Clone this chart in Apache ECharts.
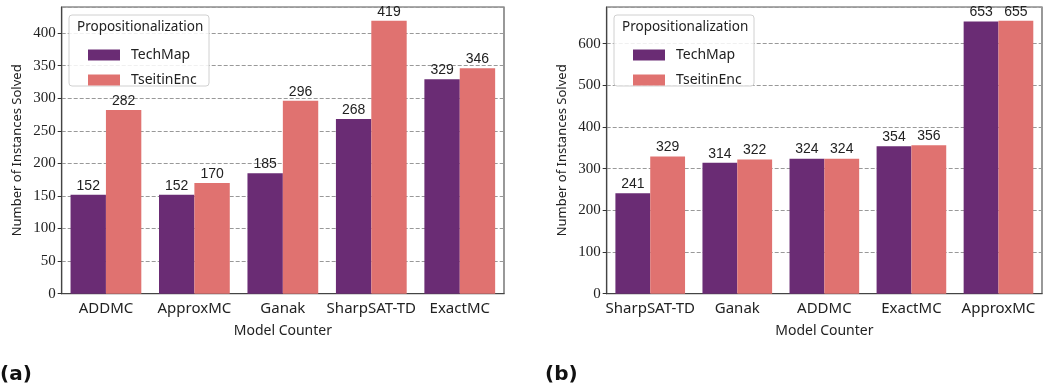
<!DOCTYPE html>
<html><head><meta charset="utf-8">
<script src="https://cdn.jsdelivr.net/npm/echarts@6/dist/echarts.min.js"></script>
<style>html,body{margin:0;padding:0;background:#fff}#c{width:1046px;height:392px}</style>
</head><body><div id="c"></div>
<script>
const catsA = ['ADDMC','ApproxMC','Ganak','SharpSAT-TD','ExactMC'];
const techA = [152,152,185,268,329];
const tseiA = [282,170,296,419,346];
const catsB = ['SharpSAT-TD','Ganak','ADDMC','ExactMC','ApproxMC'];
const techB = [241,314,324,354,653];
const tseiB = [329,322,324,356,655];
const seriesNames = ['TechMap','TseitinEnc'];
const legendTitle = 'Propositionalization';
const yTitle = 'Number of Instances Solved';
const xTitle = 'Model Counter';

const C1 = '#6a2c74', C2 = '#e07270';
const serif = 'Liberation Serif';
const sans = 'Noto Sans';
const narrow = 'Liberation Sans';

const chart = echarts.init(document.getElementById('c'), null, {renderer:'canvas'});
function xAx(i, cats){
  return {type:'category', gridIndex:i, data:cats,
    axisLine:{lineStyle:{color:'#444',width:1.2}},
    axisTick:{alignWithLabel:true,length:4,lineStyle:{color:'#333'}},
    axisLabel:{interval:0,fontFamily:sans,fontSize:15,color:'#222',margin:8},
    name:xTitle, nameLocation:'middle', nameGap:30,
    nameTextStyle:{fontFamily:sans,fontSize:14,color:'#222'}};
}
function yAx(i, max, interval){
  return {type:'value', gridIndex:i, min:0, max:max, interval:interval,
    axisLine:{show:true,lineStyle:{color:'#444',width:1.2}},
    axisTick:{show:true,length:4,lineStyle:{color:'#333'}},
    axisLabel:{fontFamily:serif,fontSize:15,color:'#222',margin:6,showMaxLabel:false},
    splitLine:{show:true,lineStyle:{color:'#999',type:[4,2],width:1}},
    name:yTitle, nameLocation:'middle', nameGap:38,
    nameTextStyle:{fontFamily:sans,fontSize:13,color:'#222'}};
}
function bar(name, data, idx, color){
  return {type:'bar', name:name, data:data, xAxisIndex:idx, yAxisIndex:idx,
    barGap:'0%', barCategoryGap:'20%', itemStyle:{color:color},
    label:{show:true,position:'top',distance:2,fontFamily:narrow,fontSize:14,color:'#222'}};
}
function legendBox(x){
  return [
    {type:'rect', z:5, shape:{x:x,y:15,width:140,height:71,r:3}, style:{fill:'rgba(255,255,255,0.85)',stroke:'#d0d0d0',lineWidth:1}},
    {type:'text', z:6, x:x+8, y:27, style:{text:legendTitle,fontFamily:sans,fontSize:13.5,fill:'#222',verticalAlign:'middle'}}
  ];
}
function legendItems(x){
  return {orient:'vertical', left:x+14, top:43, itemWidth:32, itemHeight:11, itemGap:11, z:10,
    icon:'rect', data:seriesNames, textStyle:{fontFamily:sans,fontSize:14,color:'#222',padding:[0,0,0,6]},
    selectedMode:false};
}
chart.setOption({
  animation:false,
  grid:[
    {left:61.7, top:7, width:442.3, height:286.7, show:true, borderColor:'#555', borderWidth:1.2, backgroundColor:'transparent'},
    {left:606.7, top:7, width:435.3, height:286.7, show:true, borderColor:'#555', borderWidth:1.2, backgroundColor:'transparent'}
  ],
  xAxis:[xAx(0,catsA), xAx(1,catsB)],
  yAxis:[yAx(0,440,50), yAx(1,687.75,100)],
  legend:[legendItems(69), legendItems(614)],
  graphic:[
    ...legendBox(69), ...legendBox(614),
    {type:'text', x:0, y:375, style:{text:'(a)',fontFamily:'DejaVu Sans',fontWeight:'bold',fontSize:20,fill:'#111',verticalAlign:'middle'}},
    {type:'text', x:545, y:375, style:{text:'(b)',fontFamily:'DejaVu Sans',fontWeight:'bold',fontSize:20,fill:'#111',verticalAlign:'middle'}}
  ],
  series:[
    bar(seriesNames[0], techA, 0, C1), bar(seriesNames[1], tseiA, 0, C2),
    bar(seriesNames[0], techB, 1, C1), bar(seriesNames[1], tseiB, 1, C2)
  ]
});
</script></body></html>
